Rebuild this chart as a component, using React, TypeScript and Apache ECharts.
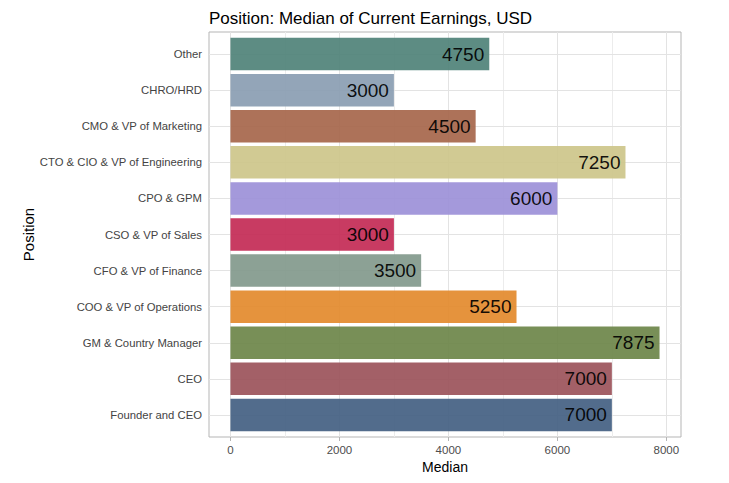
import React, { useEffect, useRef } from "react";
import * as echarts from "echarts";

const positions = [
  "Other",
  "CHRO/HRD",
  "CMO & VP of Marketing",
  "CTO & CIO & VP of Engineering",
  "CPO & GPM",
  "CSO & VP of Sales",
  "CFO & VP of Finance",
  "COO & VP of Operations",
  "GM & Country Manager",
  "CEO",
  "Founder and CEO",
];
const medians = [4750, 3000, 4500, 7250, 6000, 3000, 3500, 5250, 7875, 7000, 7000];
const barColors = [
  "#4f8278",
  "#8a9db2",
  "#a6664b",
  "#cdc68a",
  "#9c90d8",
  "#c32a55",
  "#82998c",
  "#e38a2d",
  "#6c8549",
  "#9b535a",
  "#435f82",
];
const xTicks = [0, 2000, 4000, 6000, 8000];
const xMinorGrid = [1000, 3000, 5000, 7000];

export default function App() {
  const ref = useRef<HTMLDivElement>(null);
  useEffect(() => {
    if (!ref.current) return;
    const chart = echarts.init(ref.current, null, { renderer: "svg" });
    const font = "Liberation Sans, Arial, sans-serif";
    const xMin = -393.75;
    const xMax = 8268.75;
    chart.setOption({
      animation: false,
      title: {
        text: "Position: Median of Current Earnings, USD",
        left: 204,
        top: 5,
        textStyle: { fontFamily: font, fontSize: 17, fontWeight: "normal", color: "#000" },
      },
      grid: [
        { left: 209, right: 48, top: 36, bottom: 50, show: false },
        {
          left: 209,
          right: 48,
          top: 32,
          bottom: 46,
          show: true,
          borderColor: "#b5b5b5",
          borderWidth: 1,
          backgroundColor: "transparent",
          z: 0,
        },
      ],
      xAxis: [
        {
          type: "value",
          gridIndex: 0,
          min: xMin,
          max: xMax,
          show: false,
          splitLine: { show: false },
        },
        {
          type: "value",
          gridIndex: 1,
          min: xMin,
          max: xMax,
          name: "Median",
          nameLocation: "middle",
          nameGap: 23,
          nameMoveOverlap: false,
          nameTextStyle: { fontFamily: font, fontSize: 14, color: "#000" },
          axisLine: { show: false },
          axisTick: { show: true, length: 4, lineStyle: { color: "#b5b5b5" }, customValues: xTicks },
          axisLabel: {
            customValues: xTicks,
            formatter: (v: number) => String(v),
            fontFamily: font,
            fontSize: 11.5,
            color: "#4d4d4d",
            margin: 7,
          },
          splitLine: { show: false },
        },
      ],
      yAxis: [
        {
          type: "category",
          gridIndex: 0,
          data: positions,
          inverse: true,
          splitLine: { show: false },
          axisLine: { show: false },
          axisTick: { show: true, length: 4, alignWithLabel: true, lineStyle: { color: "#b5b5b5" } },
          axisLabel: { fontFamily: font, fontSize: 11.3, color: "#444444", margin: 7 },
        },
        {
          type: "value",
          gridIndex: 1,
          min: 0,
          max: 1,
          name: "Position",
          nameLocation: "middle",
          nameGap: 173,
          nameMoveOverlap: false,
          nameRotate: 90,
          nameTextStyle: { fontFamily: font, fontSize: 15, color: "#000" },
          axisLine: { show: false },
          axisTick: { show: false },
          axisLabel: { show: false },
          splitLine: { show: false },
        },
      ],
      series: [
        {
          type: "scatter",
          xAxisIndex: 1,
          yAxisIndex: 1,
          data: [],
          z: 0,
          silent: true,
          markLine: {
            z: 1,
            silent: true,
            symbol: "none",
            label: { show: false },
            lineStyle: { color: "#e3e3e3", width: 1, type: "solid" },
            data: [
              ...xTicks.map((v) => ({ xAxis: v })),
              ...xMinorGrid.map((v) => ({ xAxis: v, lineStyle: { color: "#ececec", width: 1, type: "solid" } })),
            ],
          },
        },
        {
          type: "scatter",
          xAxisIndex: 0,
          yAxisIndex: 0,
          data: [],
          z: 0,
          silent: true,
          markLine: {
            z: 1,
            silent: true,
            symbol: "none",
            label: { show: false },
            lineStyle: { color: "#e3e3e3", width: 1, type: "solid" },
            data: positions.map((p) => [
              { coord: [xMin, p] },
              { coord: [xMax, p] },
            ]),
          },
        },
        {
          type: "bar",
          xAxisIndex: 0,
          yAxisIndex: 0,
          z: 5,
          barCategoryGap: "10%",
          data: medians.map((v, i) => ({
            value: v,
            itemStyle: { color: barColors[i], opacity: 0.92 },
          })),
          label: {
            show: true,
            position: "insideRight",
            distance: 5,
            fontFamily: font,
            fontSize: 19,
            color: "#000",
          },
        },
      ],
    });
    return () => chart.dispose();
  }, []);
  return <div ref={ref} style={{ width: 729, height: 483, position: "absolute", left: 0, top: 0 }} />;
}
